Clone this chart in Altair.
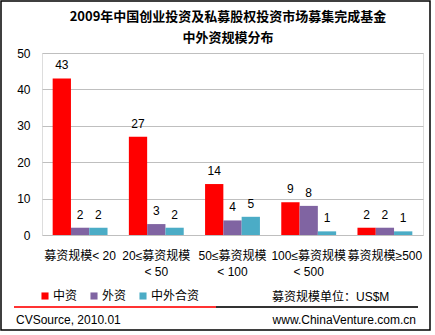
import altair as alt
import pandas as pd

categories = ["募资规模< 20", "20≤募资规模|< 50", "50≤募资规模|< 100", "100≤募资规模|< 500", "募资规模≥500"]
series_names = ["中资", "外资", "中外合资"]
domestic = [43, 27, 14, 9, 2]
foreign = [2, 3, 4, 8, 2]
joint = [2, 2, 5, 1, 1]
colors = ["#FF0000", "#8064A2", "#4BACC6"]

rows = []
for i, c in enumerate(categories):
    for s, vals in zip(series_names, [domestic, foreign, joint]):
        rows.append({"cat": c, "series": s, "value": vals[i]})
df = pd.DataFrame(rows)

FONT = "Liberation Sans, Noto Sans CJK SC"
NUMFONT = "Liberation Sans"

x_enc = alt.X("cat:N", sort=categories, title=None,
              scale=alt.Scale(paddingInner=0.28, paddingOuter=0.14),
              axis=alt.Axis(labelAngle=0, ticks=False, domain=False,
                            labelExpr="split(datum.label, '|')",
                            labelFontSize=12, labelFont=FONT, labelColor="black",
                            labelPadding=15, labelLineHeight=16, labelLimit=200,
                            labelOverlap=False))
y_enc = alt.Y("value:Q", title=None,
              scale=alt.Scale(domain=[0, 50], nice=False),
              axis=alt.Axis(values=[0, 10, 20, 30, 40, 50], ticks=False, domain=False,
                            labelFontSize=12, labelFont=NUMFONT, labelColor="black",
                            labelPadding=12, gridColor="#BFBFBF", gridWidth=1,
                            labelOverlap=False))
xoff = alt.XOffset("series:N", sort=series_names, scale=alt.Scale(paddingInner=0, paddingOuter=0))
color_enc = alt.Color("series:N", sort=series_names,
                      scale=alt.Scale(domain=series_names, range=colors),
                      legend=alt.Legend(title=None, orient="none", legendX=-3, legendY=237,
                                        direction="horizontal", symbolType="square",
                                        symbolSize=50, symbolStrokeWidth=0,
                                        labelFont=FONT, labelFontSize=12, labelColor="black",
                                        labelOffset=2, columnPadding=10, padding=0))

base = alt.Chart(df)
bars = base.mark_bar().encode(x=x_enc, y=y_enc, xOffset=xoff, color=color_enc)
labels = base.mark_text(dy=-6, fontSize=12, font=NUMFONT, color="black", baseline="bottom").encode(
    x=x_enc, y=y_enc, xOffset=xoff, text="value:Q")

one = alt.Chart(pd.DataFrame({"a": [0]}))
border = one.mark_rect(filled=False, stroke="black", strokeWidth=1.5).encode(
    x=alt.value(-41), x2=alt.value(388), y=alt.value(-52), y2=alt.value(277))
title1 = one.mark_text(font="Noto Sans CJK SC", fontSize=13, fontWeight="bold", color="black").encode(
    x=alt.value(186), y=alt.value(-36), text=alt.value("2009年中国创业投资及私募股权投资市场募集完成基金"))
title2 = one.mark_text(font="Noto Sans CJK SC", fontSize=13, fontWeight="bold", color="black").encode(
    x=alt.value(186), y=alt.value(-15), text=alt.value("中外资规模分布"))
unit = one.mark_text(font=FONT, fontSize=12, color="black", align="left").encode(
    x=alt.value(230), y=alt.value(244), text=alt.value("募资规模单位：US$M"))
line_red = one.mark_rule(color="#FF3333", strokeWidth=2).encode(
    x=alt.value(-28), x2=alt.value(174), y=alt.value(254))
line_dark = one.mark_rule(color="#333333", strokeWidth=2).encode(
    x=alt.value(174), x2=alt.value(376), y=alt.value(254))
foot1 = one.mark_text(font=NUMFONT, fontSize=12, color="black", align="left").encode(
    x=alt.value(-26), y=alt.value(267), text=alt.value("CVSource, 2010.01"))
foot2 = one.mark_text(font=NUMFONT, fontSize=12, color="black", align="right").encode(
    x=alt.value(374), y=alt.value(267), text=alt.value("www.ChinaVenture.com.cn"))

chart = alt.layer(bars, labels, border, title1, title2, unit, line_red, line_dark, foot1, foot2).properties(
    width=381, height=182,
    autosize=alt.AutoSizeParams(type="none"),
    padding={"left": 42, "top": 53, "right": 12, "bottom": 100},
).configure_view(stroke="black", strokeWidth=1.5).configure(background="white")

chart.save("out.html", embed_options={"renderer": "svg", "actions": False})
